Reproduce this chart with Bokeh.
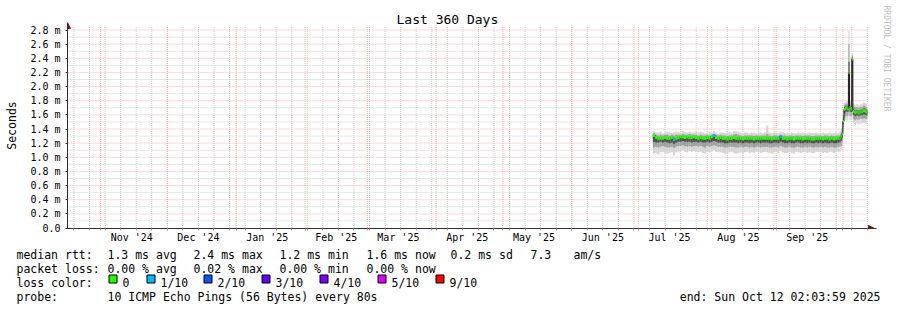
import pandas as pd
from bokeh.plotting import figure
from bokeh.layouts import column
from bokeh.models import (Range1d, FixedTicker, DatetimeTickFormatter, CustomJSTickFormatter,
                          Title, Arrow, NormalHead, ColumnDataSource)
from bokeh.core.properties import value
from bokeh.embed import file_html
from bokeh.resources import INLINE

# ---------------- data ----------------
END_TIME = pd.Timestamp("2025-10-12 02:03:59")
SPAN_DAYS = 360
TITLE = "Last 360 Days"

# daily bins (start 2025-07-07 12:00), values in ms
daily_start = "2025-07-07 12:00"
median_a = [1.31,1.28,1.27,1.27,1.27,1.28,1.27,1.27,1.28,1.25,
            1.27,1.28,1.29,1.29,1.28,1.29,1.28,1.28,1.29,1.28,
            1.27,1.28,1.27,1.27,1.28,1.27,1.29,1.31,1.28,1.27,
            1.28,1.27,1.27,1.26,1.27,1.27,1.28,1.27,1.27,1.27,
            1.26,1.27,1.27,1.27,1.27,1.26,1.27,1.27,1.27,1.27,
            1.27,1.27,1.27,1.26,1.27,1.27,1.27,1.29,1.27,1.27,
            1.26,1.27,1.27,1.26,1.27,1.27,1.27,1.26,1.27,1.27,
            1.27,1.26,1.26,1.27,1.27,1.27,1.26,1.27,1.27,1.26,
            1.27,1.26,1.27,1.27]
loss_a = [0,0,0,0,0,0,0,0,0,1,
          0,0,0,0,0,0,0,0,0,0,
          0,0,0,0,0,0,0,1,0,0,
          0,0,0,0,0,0,0,0,0,0,
          0,0,0,0,0,0,0,0,0,0,
          0,0,0,0,0,0,0,1,0,0,
          0,0,0,0,0,0,0,0,0,0,
          0,0,0,0,0,0,0,0,0,0,
          0,0,0,0]
max_a = [1.37,1.35,1.35,1.36,1.34,1.35,1.36,1.35,1.34,1.35,
         1.36,1.36,1.35,1.37,1.36,1.35,1.36,1.35,1.35,1.36,
         1.35,1.36,1.35,1.34,1.35,1.36,1.35,1.37,1.35,1.34,
         1.35,1.35,1.34,1.35,1.36,1.35,1.37,1.37,1.36,1.35,
         1.34,1.35,1.35,1.34,1.35,1.35,1.34,1.35,1.35,1.34,
         1.35,1.45,1.35,1.34,1.35,1.35,1.34,1.36,1.35,1.34,
         1.35,1.34,1.35,1.34,1.34,1.35,1.34,1.35,1.34,1.34,
         1.35,1.34,1.34,1.35,1.34,1.34,1.35,1.34,1.34,1.35,
         1.34,1.34,1.35,1.34]
hi_mid_a = [1.34,1.32,1.31,1.32,1.31,1.32,1.32,1.31,1.32,1.31,
            1.32,1.32,1.32,1.33,1.32,1.32,1.33,1.32,1.32,1.32,
            1.31,1.32,1.31,1.31,1.32,1.31,1.32,1.33,1.32,1.31,
            1.32,1.31,1.31,1.30,1.31,1.31,1.32,1.33,1.32,1.31,
            1.30,1.31,1.31,1.31,1.31,1.30,1.31,1.31,1.31,1.31,
            1.31,1.33,1.31,1.30,1.31,1.31,1.31,1.32,1.31,1.31,
            1.30,1.31,1.31,1.30,1.31,1.31,1.31,1.30,1.31,1.31,
            1.31,1.30,1.30,1.31,1.31,1.31,1.30,1.31,1.31,1.30,
            1.31,1.30,1.31,1.31]
hi_dark_a = [1.32,1.29,1.28,1.28,1.28,1.29,1.28,1.28,1.29,1.27,
             1.28,1.29,1.30,1.30,1.29,1.30,1.29,1.29,1.30,1.29,
             1.28,1.29,1.28,1.28,1.29,1.28,1.30,1.32,1.29,1.28,
             1.29,1.28,1.28,1.27,1.28,1.28,1.29,1.28,1.28,1.28,
             1.27,1.28,1.28,1.28,1.28,1.27,1.28,1.28,1.28,1.28,
             1.28,1.28,1.28,1.27,1.28,1.28,1.28,1.30,1.28,1.28,
             1.27,1.28,1.28,1.27,1.28,1.28,1.28,1.27,1.28,1.28,
             1.28,1.27,1.27,1.28,1.28,1.28,1.27,1.28,1.28,1.27,
             1.28,1.27,1.28,1.28]
lo_dark_a = [1.22,1.21,1.21,1.22,1.21,1.22,1.21,1.20,1.21,1.19,
             1.21,1.22,1.22,1.23,1.22,1.22,1.22,1.21,1.22,1.22,
             1.21,1.22,1.21,1.21,1.22,1.21,1.22,1.23,1.22,1.21,
             1.21,1.21,1.20,1.20,1.21,1.21,1.21,1.21,1.20,1.21,
             1.20,1.21,1.21,1.20,1.21,1.20,1.21,1.21,1.20,1.21,
             1.21,1.21,1.20,1.20,1.21,1.21,1.20,1.22,1.21,1.20,
             1.20,1.21,1.20,1.20,1.21,1.21,1.20,1.20,1.21,1.20,
             1.21,1.20,1.20,1.21,1.20,1.21,1.20,1.21,1.20,1.20,
             1.21,1.20,1.20,1.21]
lo_mid_a = [1.14,1.15,1.14,1.15,1.16,1.15,1.14,1.14,1.15,1.13,
            1.15,1.16,1.16,1.17,1.16,1.15,1.16,1.15,1.16,1.16,
            1.15,1.16,1.15,1.14,1.16,1.15,1.16,1.17,1.16,1.15,
            1.15,1.15,1.14,1.14,1.15,1.15,1.15,1.14,1.14,1.15,
            1.14,1.15,1.15,1.14,1.15,1.14,1.15,1.15,1.14,1.15,
            1.15,1.15,1.14,1.14,1.15,1.15,1.14,1.16,1.15,1.14,
            1.14,1.15,1.14,1.14,1.15,1.15,1.14,1.14,1.15,1.14,
            1.15,1.14,1.14,1.15,1.14,1.15,1.14,1.15,1.14,1.14,
            1.15,1.14,1.14,1.15]
min_a = [1.05,1.06,1.04,1.07,1.08,1.06,1.05,1.06,1.07,1.03,
         1.07,1.08,1.09,1.10,1.08,1.07,1.09,1.08,1.09,1.08,
         1.07,1.08,1.06,1.05,1.08,1.07,1.09,1.10,1.08,1.07,
         1.07,1.06,1.05,1.06,1.07,1.08,1.06,1.05,1.06,1.07,
         1.06,1.07,1.08,1.06,1.07,1.06,1.08,1.07,1.06,1.07,
         1.08,1.07,1.06,1.05,1.07,1.08,1.06,1.09,1.07,1.06,
         1.06,1.07,1.06,1.05,1.08,1.07,1.06,1.07,1.08,1.06,
         1.07,1.06,1.06,1.08,1.07,1.08,1.06,1.07,1.06,1.07,
         1.08,1.06,1.07,1.08]

# half-day bins (start 2025-09-29 12:00)
halfday_start = "2025-09-29 12:00"
median_b = [1.28,1.30,1.33,1.51,1.68,1.69,1.70,1.69,2.20,1.70,1.69,2.39,1.65,
            1.64,1.63,1.64,1.64,1.63,1.64,1.65,1.64,1.66,1.66,1.65,1.64]
loss_b = [0,0,0,0,0,0,0,0,0,0,0,0,0,0,0,0,0,0,0,0,0,0,0,0,0]
min_b = [1.08,1.10,1.16,1.38,1.50,1.52,1.53,1.52,1.60,1.52,1.52,1.60,1.48,
         1.47,1.46,1.48,1.47,1.46,1.48,1.47,1.48,1.49,1.48,1.47,1.48]
lo_mid_b = [1.15,1.16,1.22,1.43,1.56,1.58,1.59,1.58,1.66,1.58,1.58,1.66,1.54,
            1.53,1.53,1.54,1.53,1.53,1.54,1.54,1.54,1.55,1.55,1.54,1.54]
lo_dark_b = [1.21,1.23,1.28,1.47,1.62,1.64,1.65,1.64,1.75,1.64,1.64,1.80,1.60,
             1.59,1.58,1.59,1.59,1.58,1.59,1.60,1.59,1.61,1.61,1.60,1.59]
hi_dark_b = [1.29,1.32,1.36,1.55,1.71,1.72,1.73,1.72,2.35,1.73,1.72,2.41,1.68,
             1.67,1.66,1.67,1.67,1.66,1.67,1.68,1.67,1.69,1.69,1.68,1.67]
hi_mid_b = [1.32,1.35,1.42,1.60,1.74,1.75,1.76,1.75,2.60,1.76,1.80,2.44,1.72,
            1.71,1.70,1.71,1.71,1.70,1.71,1.72,1.71,1.73,1.73,1.72,1.71]
max_b = [1.36,1.40,1.48,1.66,1.77,1.78,1.80,1.79,2.79,1.80,2.10,2.47,1.76,
         1.75,1.74,1.75,1.75,1.74,1.75,1.76,1.75,1.77,1.77,1.76,1.75]

loss_levels = [0, 1, 2, 3, 4, 5, 9]
loss_labels = ["0", "1/10", "2/10", "3/10", "4/10", "5/10", "9/10"]
loss_colors = ["#26ff00", "#00b8ff", "#0059ff", "#5e00ff", "#7e00ff", "#dd00ff", "#ff0000"]

y_major = [0.0, 0.2, 0.4, 0.6, 0.8, 1.0, 1.2, 1.4, 1.6, 1.8, 2.0, 2.2, 2.4, 2.6, 2.8]
y_minor = [0.1, 0.3, 0.5, 0.7, 0.9, 1.1, 1.3, 1.5, 1.7, 1.9, 2.1, 2.3, 2.5, 2.7]

stats_rtt = ["median rtt:", "1.3 ms avg", "2.4 ms max", "1.2 ms min", "1.6 ms now", "0.2 ms sd", "7.3", "am/s"]
stats_loss = ["packet loss:", "0.00 % avg", "0.02 % max", "0.00 % min", "0.00 % now"]
probe_text = ["probe:", "10 ICMP Echo Pings (56 Bytes) every 80s"]
end_text = "end: Sun Oct 12 02:03:59 2025"
watermark = "RRDTOOL / TOBI OETIKER"

# ---------------- build bins ----------------
FONT = "DejaVu Sans Mono"
start_time = END_TIME - pd.Timedelta(days=SPAN_DAYS)

def make_bins(t0, n, hours):
    s = pd.Timestamp(t0)
    st = [s + pd.Timedelta(hours=hours * i) for i in range(n)]
    en = [t + pd.Timedelta(hours=hours) for t in st]
    return st, en

st_a, en_a = make_bins(daily_start, len(median_a), 24)
st_b, en_b = make_bins(halfday_start, len(median_b), 12)
starts = st_a + st_b
ends = en_a + en_b
med = median_a + median_b
loss = loss_a + loss_b
cmap = dict(zip(loss_levels, loss_colors))
src = ColumnDataSource(dict(left=starts, right=ends, med=med,
                            pmin=min_a + min_b, plom=lo_mid_a + lo_mid_b,
                            plod=lo_dark_a + lo_dark_b, phid=hi_dark_a + hi_dark_b,
                            phim=hi_mid_a + hi_mid_b, pmax=max_a + max_b,
                            col=[cmap[v] for v in loss]))

# ---------------- main figure ----------------
MAIN_H = 248
FL, FB, FR, FT = 67, 228, 876, 22
PX_PER_DAY = 800 / SPAN_DAYS
PX_PER_MS = 70.7
x_end = END_TIME + pd.Timedelta(days=(FR - FL - 800) / PX_PER_DAY)
y_start = -0.5 / PX_PER_MS
y_end = y_start + (FB - FT) / PX_PER_MS

p = figure(width=897, height=MAIN_H, x_axis_type="datetime", output_backend="svg",
           toolbar_location=None, min_border_left=FL, min_border_right=897 - FR,
           min_border_top=FT, min_border_bottom=MAIN_H - FB,
           x_range=Range1d(start_time, x_end), y_range=Range1d(y_start, y_end))
p.outline_line_color = None
p.background_fill_color = "white"
p.border_fill_color = "white"
p.xgrid.visible = False
p.ygrid.visible = False

p.title.text = TITLE
p.title.align = "left"
p.title.offset = 396 - FL
p.title.text_font = FONT
p.title.text_font_size = "13px"
p.title.text_font_style = "normal"
p.title.text_color = "black"
p.title.standoff = -8

p.add_layout(Title(text=watermark, align="left", offset=-17, text_font=FONT, text_font_size="8px",
                   text_font_style="normal", text_color="#c0c0c0", standoff=10), "right")

MINOR_GRID = "#cccccc"
MAJOR_GRID = "#ff9898"
GRID_TOP = 2.86

month_starts = pd.date_range("2024-11-01", "2025-10-01", freq="MS")
sundays = pd.date_range("2024-10-20", "2025-10-12", freq="W-SUN")
mid_months = [m for m in pd.date_range("2024-11-01", "2025-09-01", freq="MS") + pd.Timedelta(days=14)
              if start_time < m < END_TIME]

p.segment(x0=list(sundays), x1=list(sundays), y0=0, y1=GRID_TOP,
          line_color=MINOR_GRID, line_dash="1 1", line_width=1)
p.segment(x0=start_time, x1=END_TIME, y0=y_minor, y1=y_minor,
          line_color=MINOR_GRID, line_dash="1 1", line_width=1)
p.segment(x0=list(month_starts), x1=list(month_starts), y0=0, y1=GRID_TOP,
          line_color=MAJOR_GRID, line_dash="1 1", line_width=1, line_alpha=0.75)
p.segment(x0=start_time, x1=END_TIME, y0=y_major[1:], y1=y_major[1:],
          line_color=MAJOR_GRID, line_dash="1 1", line_width=1, line_alpha=0.75)

# smoke
p.quad(left="left", right="right", bottom="pmin", top="pmax", source=src,
       fill_color="#d4d4d4", line_color=None)
p.quad(left="left", right="right", bottom="plom", top="phim", source=src,
       fill_color="#a0a0a0", line_color=None)
p.quad(left="left", right="right", bottom="plod", top="phid", source=src,
       fill_color="#505050", line_color=None)

# median: dark step line plus loss-coloured band
p.step(x=starts + [ends[-1]], y=med + [med[-1]], mode="after", line_color="#202020", line_width=1)
p.segment(x0="left", x1="right", y0="med", y1="med", line_color="col", line_width=3, source=src)

# axes
AX = "#303030"
xa = p.xaxis[0]
xa.ticker = FixedTicker(ticks=[m.value // 10**6 for m in mid_months],
                        minor_ticks=[t.value // 10**6 for t in list(sundays) + list(month_starts)])
fmt = "%b '%y"
xa.formatter = DatetimeTickFormatter(microseconds=fmt, milliseconds=fmt, seconds=fmt, minsec=fmt,
                                     minutes=fmt, hourmin=fmt, hours=fmt, days=fmt, months=fmt, years=fmt)
xa.axis_line_color = AX
xa.major_tick_line_color = None
xa.major_tick_out = 0
xa.major_tick_in = 0
xa.minor_tick_line_color = "#c89090"
xa.minor_tick_out = 2
xa.minor_tick_in = 0
xa.major_label_text_font = FONT
xa.major_label_text_font_size = "10px"
xa.major_label_text_color = "black"
xa.major_label_standoff = 1

ya = p.yaxis[0]
ya.ticker = FixedTicker(ticks=y_major)
ya.formatter = CustomJSTickFormatter(code="return tick < 0.001 ? '0.0' : tick.toFixed(1) + ' m';")
ya.axis_line_color = AX
ya.major_tick_line_color = AX
ya.major_tick_out = 2
ya.major_tick_in = 0
ya.minor_tick_line_color = None
ya.major_label_text_font = FONT
ya.major_label_text_font_size = "10px"
ya.major_label_text_color = "black"
ya.major_label_standoff = 5
ya.axis_label = "Seconds"
ya.axis_label_text_font = FONT
ya.axis_label_text_font_size = "11.5px"
ya.axis_label_text_font_style = "normal"
ya.axis_label_text_color = "black"
ya.axis_label_standoff = 8

head_kw = dict(size=6, fill_color="#7a1010", line_color="#7a1010")
p.add_layout(Arrow(end=NormalHead(**head_kw), x_start=0, y_start=FB - 40, x_end=0, y_end=FB - FT,
                   start_units="screen", end_units="screen", line_alpha=0))
p.add_layout(Arrow(end=NormalHead(**head_kw), x_start=780, y_start=0, x_end=874 - FL, y_end=0,
                   start_units="screen", end_units="screen", line_alpha=0))

# ---------------- footer (legend / statistics) ----------------
FOOT_H = 310 - MAIN_H
f = figure(width=897, height=FOOT_H, output_backend="svg", toolbar_location=None,
           x_range=Range1d(0, 897), y_range=Range1d(310, MAIN_H),
           x_axis_location=None, y_axis_location=None, min_border=0,
           min_border_left=0, min_border_right=0, min_border_top=0, min_border_bottom=0)
f.outline_line_color = None
f.xgrid.visible = False
f.ygrid.visible = False
f.background_fill_color = "white"
f.border_fill_color = "white"

for fig in (p, f):
    if "frame_align" in fig.properties():
        fig.frame_align = False

ROW = [254, 268, 282, 296]   # text baselines of the four footer rows
txt, tx, ty = [], [], []
for t, x in zip(stats_rtt, [16, 107, 193, 279, 366, 450, 530, 573]):
    txt.append(t); tx.append(x); ty.append(ROW[0])
for t, x in zip(stats_loss, [16, 107, 193, 279, 366]):
    txt.append(t); tx.append(x); ty.append(ROW[1])
txt.append("loss color:"); tx.append(16); ty.append(ROW[2])
sq_x = [108, 146, 203, 261, 319, 377, 435]
for t, x in zip(loss_labels, sq_x):
    txt.append(t); tx.append(x + 14); ty.append(ROW[2])
txt += probe_text; tx += [16, 107]; ty += [ROW[3], ROW[3]]
f.text(x=tx, y=ty, text=txt, text_font=value(FONT), text_font_size="11.5px",
       text_baseline="alphabetic", text_align="left", text_color="black")
f.text(x=[880], y=[ROW[3]], text=[end_text], text_font=value(FONT), text_font_size="11.5px",
       text_baseline="alphabetic", text_align="right", text_color="black")
f.quad(left=[x + 0.5 for x in sq_x], right=[x + 8.5 for x in sq_x],
       top=ROW[2] - 7.5, bottom=ROW[2] + 0.5, fill_color=loss_colors, line_color="black", line_width=1)

layout = column(p, f, spacing=0)
open("out.html", "w").write(file_html(layout, INLINE))
